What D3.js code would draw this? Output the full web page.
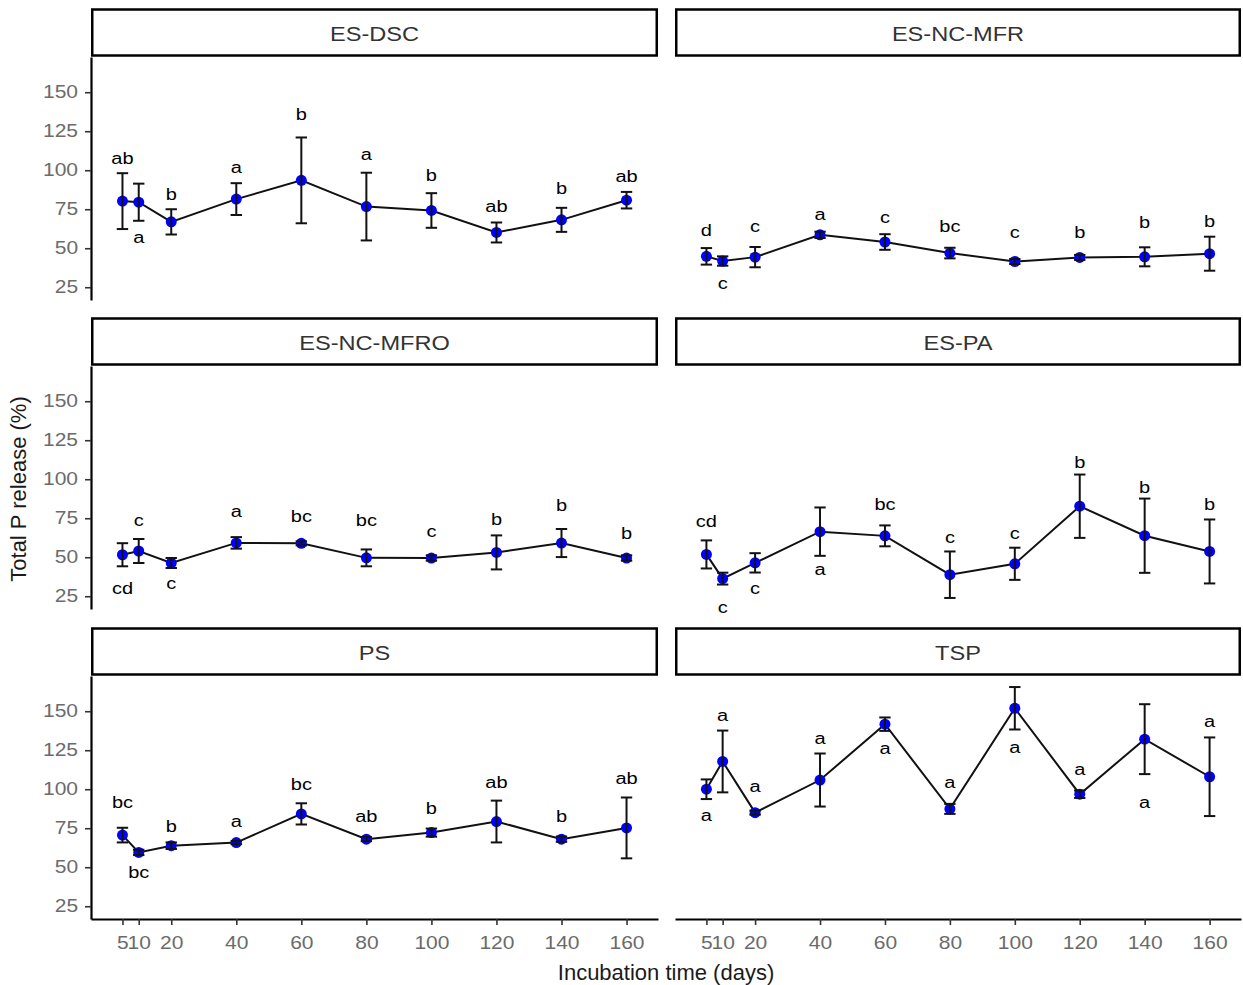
<!DOCTYPE html>
<html>
<head>
<meta charset="utf-8">
<script src="https://cdn.jsdelivr.net/npm/d3@7"></script>
<style>
  body { margin: 0; background: #fff; }
  svg { display: block; font-family: "Liberation Sans", Arial, sans-serif; }
</style>
</head>
<body>
<svg id="chart" width="1243" height="985"></svg>
<script>
// incubation days (x) and y ticks
const days = [5, 10, 20, 40, 60, 80, 100, 120, 140, 160];
const yTicks = [25, 50, 75, 100, 125, 150];

// ES-DSC
const esDscMean = [80.2, 79.5, 66.9, 81.5, 93.5, 76.7, 74.2, 60.1, 68.2, 80.8];
const esDscSd = [17.9, 11.9, 8.1, 10.2, 27.5, 21.7, 11.1, 6.4, 7.7, 5.3];
const esDscLetters = ["ab", "a", "b", "a", "b", "a", "b", "ab", "b", "ab"];
const esDscLetterY = [107.4, 55.9, 84.6, 100.6, 135.7, 109.5, 97, 76.7, 88.2, 95.9];

// ES-NC-MFR
const esNcMfrMean = [44.8, 41.8, 44.3, 58.6, 54.0, 46.9, 41.5, 44.1, 44.5, 46.5];
const esNcMfrSd = [5.3, 3.0, 6.5, 2.0, 5.0, 3.4, 1.6, 1.6, 6.1, 10.9];
const esNcMfrLetters = ["d", "c", "c", "a", "c", "bc", "c", "b", "b", "b"];
const esNcMfrLetterY = [61.6, 26.5, 63.3, 70.8, 68.7, 63.8, 59.5, 60.1, 66.5, 67.6];

// ES-NC-MFRO
const esNcMfroMean = [51.6, 54.0, 46.3, 59.2, 58.9, 49.6, 49.5, 53.1, 59.1, 49.5];
const esNcMfroSd = [7.4, 7.7, 3.2, 3.7, 1.3, 5.4, 1.7, 10.9, 9.0, 1.7];
const esNcMfroLetters = ["cd", "c", "c", "a", "bc", "bc", "c", "b", "b", "b"];
const esNcMfroLetterY = [29.9, 72.5, 32.5, 78.4, 76.3, 73.6, 65.5, 74.6, 83.6, 65.7];

// ES-PA
const esPaMean = [51.8, 36.3, 46.4, 66.4, 63.7, 38.8, 45.8, 82.7, 63.8, 53.7];
const esPaSd = [9.0, 3.8, 6.2, 15.5, 6.7, 14.9, 10.3, 20.3, 23.8, 20.5];
const esPaLetters = ["cd", "c", "c", "a", "bc", "c", "c", "b", "b", "b"];
const esPaLetterY = [72.9, 17.1, 28.8, 41, 84.2, 61.8, 64.4, 111.2, 95, 83.8];

// PS
const psMean = [70.6, 59.5, 63.8, 65.8, 84.2, 68.0, 72.2, 79.3, 68.0, 75.2];
const psSd = [4.7, 1.7, 2.1, 1.0, 6.8, 1.3, 2.6, 13.4, 1.7, 19.5];
const psLetters = ["bc", "bc", "b", "a", "bc", "ab", "b", "ab", "b", "ab"];
const psLetterY = [91.7, 46.9, 76.1, 78.7, 103.4, 82.5, 87.8, 104.6, 82.9, 106.8];

// TSP
const tspMean = [100.0, 117.8, 85.0, 105.9, 141.7, 87.4, 151.9, 96.8, 132.1, 108.0];
const tspSd = [6.3, 19.8, 1.3, 17.0, 4.3, 3.2, 13.6, 2.4, 22.4, 25.2];
const tspLetters = ["a", "a", "a", "a", "a", "a", "a", "a", "a", "a"];
const tspLetterY = [82.5, 146.4, 100.6, 131.5, 125.1, 103.4, 126.2, 111.9, 90.6, 142.8];

const facets = [
  { name: "ES-DSC", mean: esDscMean, sd: esDscSd, letters: esDscLetters, letterY: esDscLetterY },
  { name: "ES-NC-MFR", mean: esNcMfrMean, sd: esNcMfrSd, letters: esNcMfrLetters, letterY: esNcMfrLetterY },
  { name: "ES-NC-MFRO", mean: esNcMfroMean, sd: esNcMfroSd, letters: esNcMfroLetters, letterY: esNcMfroLetterY },
  { name: "ES-PA", mean: esPaMean, sd: esPaSd, letters: esPaLetters, letterY: esPaLetterY },
  { name: "PS", mean: psMean, sd: psSd, letters: psLetters, letterY: psLetterY },
  { name: "TSP", mean: tspMean, sd: tspSd, letters: tspLetters, letterY: tspLetterY }
];

// layout
const cols = [[91, 658], [675, 1241]];
const rowTops = [57, 366, 676];
const panelH = 243;
const stripH = 49;
const capW = 3.5; // error bar width, in days

const svg = d3.select("svg#chart");

function expand(ext) {
  const pad = (ext[1] - ext[0]) * 0.05;
  return [ext[0] - pad, ext[1] + pad];
}

const xDomain = expand([d3.min(days) - capW / 2, d3.max(days) + capW / 2]);
const lows = facets.flatMap(f => f.mean.map((m, i) => m - f.sd[i]));
const highs = facets.flatMap(f => f.mean.map((m, i) => m + f.sd[i]));
const yDomain = expand([d3.min(lows), d3.max(highs)]);

function translate(x, y) {
  return "translate(" + String(x) + "," + String(y) + ")";
}

facets.forEach(function(f, k) {
  const col = k % 2;
  const row = Math.floor(k / 2);
  const x0 = cols[col][0], x1 = cols[col][1];
  const top = rowTops[row];

  const x = d3.scaleLinear().domain(xDomain).range([x0, x1]);
  const y = d3.scaleLinear().domain(yDomain).range([top + panelH, top]);

  const g = svg.append("g").attr("class", "facet");

  // strip
  g.append("rect")
    .attr("x", x0 + 1.25)
    .attr("y", top - stripH + 1.5)
    .attr("width", x1 - x0 - 2.5)
    .attr("height", stripH - 3)
    .attr("fill", "#fff")
    .attr("stroke", "#000")
    .attr("stroke-width", 2.5);
  g.append("text")
    .attr("transform", translate((x0 + x1) / 2, top - stripH / 2 + 1) + " scale(1.15,1)")
    .attr("text-anchor", "middle")
    .attr("dy", "0.36em")
    .attr("font-size", 20.5)
    .attr("fill", "#333")
    .text(f.name);

  // y axis on left column only
  if (col === 0) {
    const ay = g.append("g")
      .attr("transform", translate(x0, 0))
      .call(d3.axisLeft(y).tickValues(yTicks).tickSize(6).tickSizeOuter(0).tickPadding(4.8));
    ay.select(".domain").attr("stroke", "#000").attr("stroke-width", 2.2);
    ay.selectAll(".tick line").attr("stroke", "#333").attr("stroke-width", 1.6);
    ay.selectAll(".tick text")
      .attr("transform", "scale(1.2,1)")
      .attr("font-size", 17.5)
      .attr("font-family", null)
      .attr("fill", "#6b6b6b");
  }

  // x axis on bottom row only
  if (row === 2) {
    const ax = g.append("g")
      .attr("transform", translate(0, top + panelH))
      .call(d3.axisBottom(x).tickValues(days).tickSize(6).tickSizeOuter(0).tickPadding(11.5));
    ax.select(".domain").attr("stroke", "#000").attr("stroke-width", 2.2);
    ax.selectAll(".tick line").attr("stroke", "#333").attr("stroke-width", 1.6);
    ax.selectAll(".tick text")
      .attr("transform", "scale(1.2,1)")
      .attr("font-size", 17.5)
      .attr("font-family", null)
      .attr("fill", "#6b6b6b");
  }

  const pts = days.map((d, i) => ({
    day: d, mean: f.mean[i], sd: f.sd[i], letter: f.letters[i], ly: f.letterY[i]
  }));

  // connecting line
  const line = d3.line().x(d => x(d.day)).y(d => y(d.mean));
  g.append("path")
    .datum(pts)
    .attr("d", line)
    .attr("fill", "none")
    .attr("stroke", "#111")
    .attr("stroke-width", 2);

  // points
  g.selectAll("circle.pt")
    .data(pts)
    .enter()
    .append("circle")
    .attr("class", "pt")
    .attr("cx", d => x(d.day))
    .attr("cy", d => y(d.mean))
    .attr("r", 5.5)
    .attr("fill", "#0000ff");

  // error bars
  const eb = g.selectAll("g.eb")
    .data(pts)
    .enter()
    .append("g")
    .attr("class", "eb")
    .attr("stroke", "#111")
    .attr("stroke-width", 2);
  eb.append("line")
    .attr("x1", d => x(d.day)).attr("x2", d => x(d.day))
    .attr("y1", d => y(d.mean - d.sd)).attr("y2", d => y(d.mean + d.sd));
  eb.append("line")
    .attr("x1", d => x(d.day - capW / 2)).attr("x2", d => x(d.day + capW / 2))
    .attr("y1", d => y(d.mean + d.sd)).attr("y2", d => y(d.mean + d.sd));
  eb.append("line")
    .attr("x1", d => x(d.day - capW / 2)).attr("x2", d => x(d.day + capW / 2))
    .attr("y1", d => y(d.mean - d.sd)).attr("y2", d => y(d.mean - d.sd));

  // significance letters
  g.selectAll("text.letter")
    .data(pts)
    .enter()
    .append("text")
    .attr("class", "letter")
    .attr("transform", d => translate(x(d.day), y(d.ly)) + " scale(1.25,1)")
    .attr("text-anchor", "middle")
    .attr("dy", d => /[bd]/.test(d.letter) ? "0.36em" : "0.26em")
    .attr("font-size", 16)
    .attr("fill", "#000")
    .text(d => d.letter);
});

// axis titles
svg.append("text")
  .attr("x", 666)
  .attr("y", 980)
  .attr("text-anchor", "middle")
  .attr("font-size", 22)
  .attr("fill", "#1a1a1a")
  .text("Incubation time (days)");

svg.append("text")
  .attr("transform", translate(26, 489) + " rotate(-90)")
  .attr("text-anchor", "middle")
  .attr("font-size", 22)
  .attr("fill", "#1a1a1a")
  .text("Total P release (%)");
</script>
</body>
</html>
